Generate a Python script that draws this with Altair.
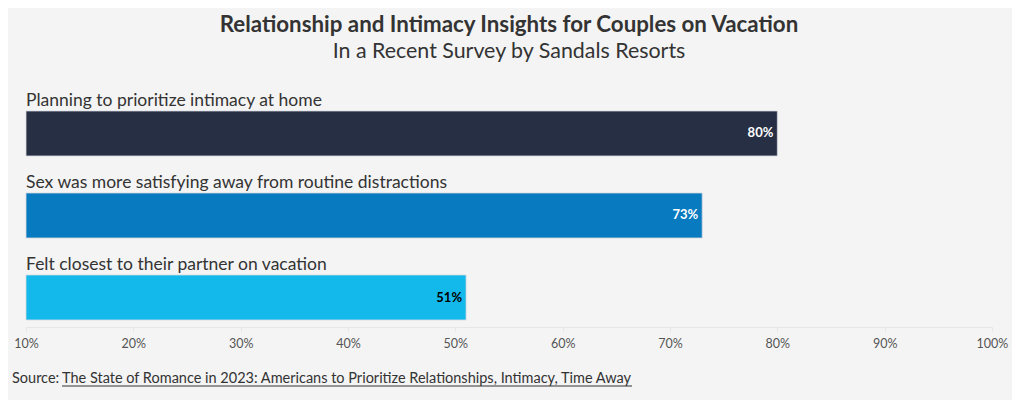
import altair as alt
import pandas as pd

categories = [
    "Planning to prioritize intimacy at home",
    "Sex was more satisfying away from routine distractions",
    "Felt closest to their partner on vacation",
]
values = [80, 73, 51]
bar_colors = ["#272f44", "#087bc0", "#14b9ec"]
label_colors = ["#ffffff", "#ffffff", "#000000"]
tick_values = [10, 20, 30, 40, 50, 60, 70, 80, 90, 100]

FONT = "Source Sans Pro, Lato, sans-serif"

df = pd.DataFrame({
    "category": categories,
    "value": values,
    "start": [10] * len(values),
    "label": [f"{v}%" for v in values],
    "color": bar_colors,
    "lcolor": label_colors,
})

yscale = alt.Scale(domain=categories, paddingInner=0.451, paddingOuter=0.201, align=0.788)
xscale = alt.Scale(domain=[10, 100], nice=False, zero=False)

base = alt.Chart(df)

bars = base.mark_bar(stroke="#d5d9e0", strokeWidth=0.8).encode(
    x=alt.X("start:Q", scale=xscale,
            axis=alt.Axis(values=tick_values, labelExpr="datum.value + '%'", title=None,
                          grid=False, domainColor="#e6e6e6", tickColor="#e6e6e6", tickSize=4,
                          labelFont=FONT, labelFontSize=12.5, labelColor="#555555",
                          labelPadding=6, labelFlush=False)),
    x2="value:Q",
    y=alt.Y("category:N", scale=yscale, axis=None),
    color=alt.Color("color:N", scale=None),
)

cat_text = base.mark_text(align="left", baseline="alphabetic", dy=-5, font=FONT,
                          fontSize=17.5, color="#333333").encode(
    x=alt.X("start:Q", scale=xscale),
    y=alt.Y("category:N", scale=yscale, bandPosition=0),
    text="category:N",
)

val_text = base.mark_text(align="right", baseline="middle", dx=-4, font=FONT,
                          fontSize=13, fontWeight="bold").encode(
    x=alt.X("value:Q", scale=xscale),
    y=alt.Y("category:N", scale=yscale),
    text="label:N",
    color=alt.Color("lcolor:N", scale=None),
)

source = alt.Chart(pd.DataFrame({"t": ["Source: "]})).mark_text(
    align="left", baseline="alphabetic", font=FONT, fontSize=14.5, color="#333333"
).encode(x=alt.value(-14), y=alt.value(298), text="t:N")

link = alt.Chart(pd.DataFrame({"t": ["The State of Romance in 2023: Americans to Prioritize Relationships, Intimacy, Time Away"]})).mark_text(
    align="left", baseline="alphabetic", font=FONT, fontSize=14.5, color="#333333"
).encode(x=alt.value(36), y=alt.value(298), text="t:N")

underline = alt.Chart(pd.DataFrame({"a": [0]})).mark_rule(color="#333333", strokeWidth=1).encode(
    x=alt.value(36), x2=alt.value(606), y=alt.value(301)
)

chart = alt.layer(bars, cat_text, val_text, source, link, underline).properties(
    width=966, height=242,
    background="#f4f4f4",
    autosize=alt.AutoSizeParams(type="none"),
    padding={"left": 18, "top": 77, "right": 20, "bottom": 75},
    title=alt.TitleParams(
        text="Relationship and Intimacy Insights for Couples on Vacation",
        subtitle="In a Recent Survey by Sandals Resorts",
        font=FONT, fontSize=22.3, fontWeight="bold", color="#333333",
        subtitleFont=FONT, subtitleFontSize=21.4, subtitleColor="#333333",
        anchor="middle", offset=23, subtitlePadding=4,
    ),
).configure_view(stroke=None)

chart.save("out.html", embed_options={"renderer": "svg", "actions": False})
